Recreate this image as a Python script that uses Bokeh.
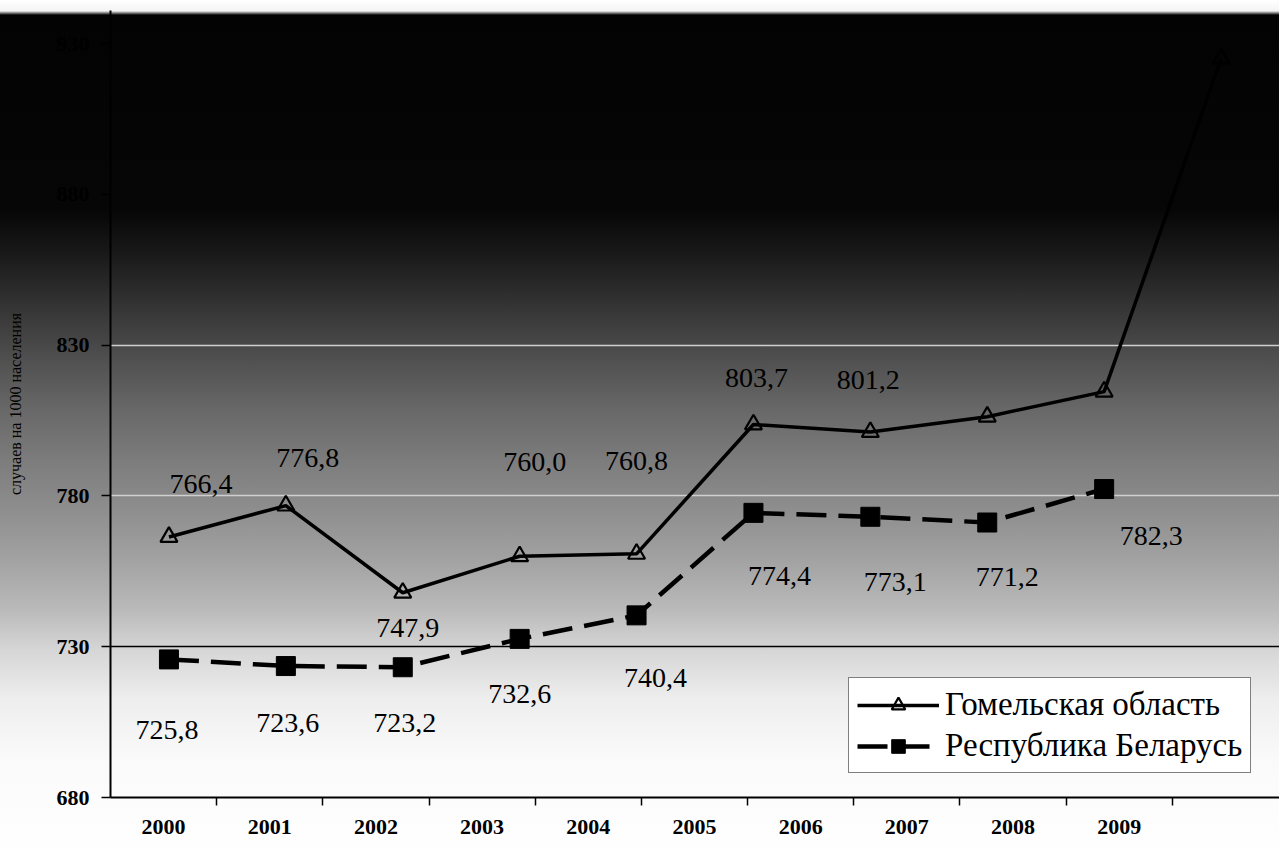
from bokeh.plotting import figure
from bokeh.models import (ColumnDataSource, Range1d, LinearAxis, FixedTicker,
                          Grid, Legend, LegendItem)
from bokeh.core.properties import value
from bokeh.embed import file_html
from bokeh.resources import INLINE

# --- data -----------------------------------------------------------------
years = [2000, 2001, 2002, 2003, 2004, 2005, 2006, 2007, 2008, 2009]
gomel = [766.4, 776.8, 747.9, 760.0, 760.8, 803.7, 801.2, 806.3, 814.6, 925.0]
gomel_labeled = [True, True, True, True, True, True, True, False, False, False]
belarus = [725.8, 723.6, 723.2, 732.6, 740.4, 774.4, 773.1, 771.2, 782.3, float("nan")]
year_labels = ["2000", "2001", "2002", "2003", "2004", "2005", "2006", "2007", "2008", "2009"]
y_ticks = [680, 730, 780, 830, 880, 930]
series_names = ["Гомельская область", "Республика Беларусь"]
y_title = "случаев на 1000 населения"

# label placement (screen pixels, +y is down)
gomel_dx = [32, 22, 5, 15, 0, 3, -2, 0, 0, 0]
gomel_dy = [-53, -48, 35, -94, -93, -47, -52, 0, 0, 0]
bel_dx = [-2, 2, 2, 0, 19, 26, 25, 20, 47, 0]
bel_dy = [71, 57, 56, 55, 63, 63, 65, 54, 47, 0]

FONT = "'Liberation Serif', 'Times New Roman', serif"


def fmt(v):
    return f"{v:.1f}".replace(".", ",")


p = figure(width=1279, height=854, output_backend="svg", toolbar_location=None,
           x_range=Range1d(1999.5, 2009.5), y_range=Range1d(680, 941),
           x_axis_location=None,
           min_border_left=110, min_border_right=0, min_border_top=10,
           min_border_bottom=57)

# photocopy-like darkening towards the top of the page
p.border_fill_color = None
p.background_fill_color = None
p.outline_line_color = None
p.styles = {
    "background-image": (
        "linear-gradient(to bottom, #ffffff 0px, #f4f4f4 11px, #030303 15px, "
        "#060606 210px, #1c1c1c 260px, #363636 310px, #505050 360px, "
        "#686868 410px, #7c7c7c 460px, #8e8e8e 510px, #a2a2a2 560px, "
        "#bababa 610px, #d6d6d6 650px, #eeeeee 700px, #fafafa 760px, #ffffff 854px)"
    )
}

# category axis drawn on its own scale
p.extra_x_ranges = {"labels": Range1d(1999.5, 2010.51)}
xaxis = LinearAxis(x_range_name="labels",
                   ticker=FixedTicker(ticks=years,
                                      minor_ticks=[y + 0.5 for y in years]))
xaxis.major_label_overrides = {y: s for y, s in zip(years, year_labels)}
xaxis.major_tick_out = 0
xaxis.major_tick_in = 0
xaxis.minor_tick_out = 8
xaxis.minor_tick_in = 0
xaxis.minor_tick_line_color = "black"
xaxis.minor_tick_line_width = 1.5
xaxis.axis_line_color = "black"
xaxis.axis_line_width = 2
xaxis.major_label_standoff = 14
xaxis.major_label_text_font = FONT
xaxis.major_label_text_font_size = "22px"
xaxis.major_label_text_font_style = "bold"
xaxis.major_label_text_color = "black"
p.add_layout(xaxis, "below")

yaxis = p.yaxis[0]
yaxis.ticker = FixedTicker(ticks=y_ticks)
yaxis.major_tick_out = 9
yaxis.major_tick_in = 0
yaxis.minor_tick_line_color = None
yaxis.axis_line_color = "black"
yaxis.axis_line_width = 2
yaxis.major_tick_line_width = 1.5
yaxis.major_label_standoff = 12
yaxis.major_label_text_font = FONT
yaxis.major_label_text_font_size = "22px"
yaxis.major_label_text_font_style = "bold"
yaxis.major_label_text_color = "black"
yaxis.axis_label = y_title
yaxis.axis_label_text_font = FONT
yaxis.axis_label_text_font_size = "16px"
yaxis.axis_label_text_font_style = "normal"
yaxis.axis_label_text_color = "black"
yaxis.axis_label_standoff = 30

p.xgrid.grid_line_color = None
p.ygrid.ticker = FixedTicker(ticks=[730])
p.ygrid.grid_line_color = "black"
p.ygrid.grid_line_width = 1.5
upper_grid = Grid(dimension=1, ticker=FixedTicker(ticks=[780, 830]),
                  grid_line_color="#cfcfcf", grid_line_width=1.5)
p.add_layout(upper_grid)

# --- series ---------------------------------------------------------------
src_g = ColumnDataSource(dict(x=years, y=gomel))
src_b = ColumnDataSource(dict(x=years, y=belarus))

bl = p.line("x", "y", source=src_b, line_color="black", line_width=4.5,
            line_dash="30 12")
bm = p.scatter("x", "y", source=src_b, marker="square", size=19,
               fill_color="black", line_color="black")

gl = p.line("x", "y", source=src_g, line_color="black", line_width=3.5)
gm = p.scatter("x", "y", source=src_g, marker="triangle", size=17,
               fill_color=None, line_color="black", line_width=2.2)

# value labels
lab_g = ColumnDataSource(dict(
    x=[x for x, k in zip(years, gomel_labeled) if k],
    y=[v for v, k in zip(gomel, gomel_labeled) if k],
    t=[fmt(v) for v, k in zip(gomel, gomel_labeled) if k],
    dx=[d for d, k in zip(gomel_dx, gomel_labeled) if k],
    dy=[d for d, k in zip(gomel_dy, gomel_labeled) if k],
))
p.text("x", "y", text="t", source=lab_g, x_offset="dx", y_offset="dy",
       text_align="center", text_baseline="middle",
       text_font=value(FONT), text_font_size="28px", text_color="black")

n_b = len([v for v in belarus if v == v])
lab_b = ColumnDataSource(dict(
    x=years[:n_b], y=belarus[:n_b], t=[fmt(v) for v in belarus[:n_b]],
    dx=bel_dx[:n_b], dy=bel_dy[:n_b],
))
p.text("x", "y", text="t", source=lab_b, x_offset="dx", y_offset="dy",
       text_align="center", text_baseline="middle",
       text_font=value(FONT), text_font_size="28px", text_color="black")

legend = Legend(items=[LegendItem(label=series_names[0], renderers=[gl, gm]),
                       LegendItem(label=series_names[1], renderers=[bl, bm])],
                location=(738, 24))
legend.label_text_font = FONT
legend.label_text_font_size = "33px"
legend.label_text_color = "black"
legend.border_line_color = "black"
legend.border_line_width = 1.5
legend.background_fill_color = "white"
legend.background_fill_alpha = 1
legend.glyph_width = 82
legend.label_height = 34
legend.glyph_height = 34
legend.spacing = 4
legend.padding = 8
legend.margin = 0
legend.label_standoff = 6
p.add_layout(legend)

open("out.html", "w").write(file_html(p, INLINE))
